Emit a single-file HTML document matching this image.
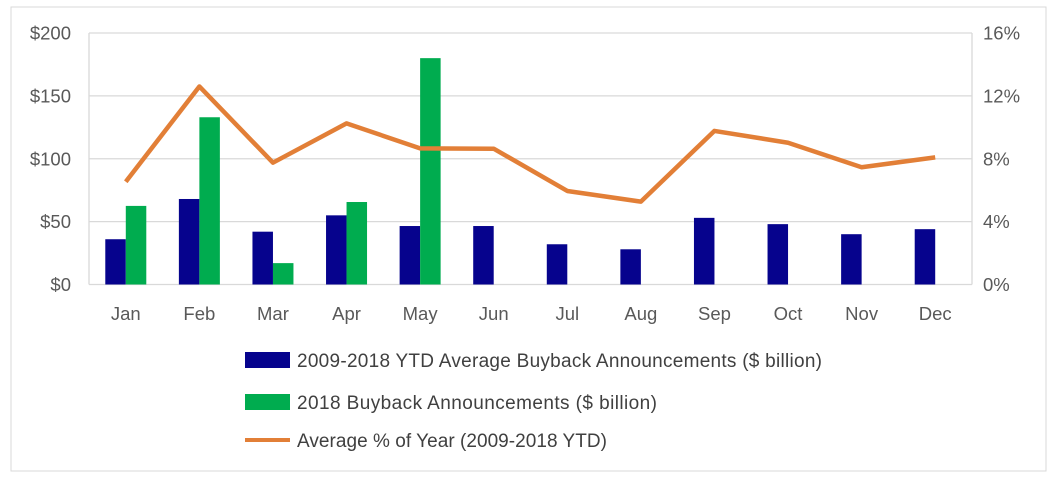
<!DOCTYPE html>
<html><head><meta charset="utf-8"><style>
body{margin:0;background:#fff;}
svg{display:block;font-family:"Liberation Sans",sans-serif;}
</style></head><body>
<svg id="chart" width="1057" height="479">
<rect x="11" y="7" width="1035" height="464" fill="#fff" stroke="#d9d9d9"/>
<g id="grid"></g><g id="bars"></g><g id="line"></g><g id="labels"></g>
<g font-size="19" fill="#404040">
<rect x="245" y="352" width="45" height="16" fill="#06038d"/>
<text x="297" y="367" textLength="525">2009-2018 YTD Average Buyback Announcements ($ billion)</text>
<rect x="245" y="394" width="45" height="16" fill="#00ac4f"/>
<text x="297" y="409" textLength="360">2018 Buyback Announcements ($ billion)</text>
<line x1="245" y1="440" x2="290" y2="440" stroke="#e27f37" stroke-width="4"/>
<text x="297" y="447" textLength="310">Average % of Year (2009-2018 YTD)</text>
</g>
</svg>
<script>
const months=["Jan","Feb","Mar","Apr","May","Jun","Jul","Aug","Sep","Oct","Nov","Dec"];
const avgBuyback=[36,68,42,55,46.5,46.5,32,28,53,48,40,44];
const buyback2018=[62.5,133,17,65.6,180,null,null,null,null,null,null,null];
const pctOfYear=[6.54,12.6,7.75,10.25,8.66,8.64,5.95,5.27,9.77,9.02,7.46,8.09];
const leftTicks=["$0","$50","$100","$150","$200"];
const rightTicks=["0%","4%","8%","12%","16%"];
const L=89,R=972,T=33,B=284.5,NS="http://www.w3.org/2000/svg";
const cw=(R-L)/months.length;
const yL=v=>B-v/200*(B-T), yR=v=>B-v/16*(B-T), xC=i=>L+cw*(i+0.5);
function mk(tag,at,parent,txt){const e=document.createElementNS(NS,tag);for(const k in at)e.setAttribute(k,at[k]);if(txt!=null)e.textContent=txt;document.getElementById(parent).appendChild(e);return e;}
leftTicks.forEach((t,i)=>{const y=yL(i*50);
let g=mk('line',{x1:L,x2:R,y1:y,y2:y,stroke:'#d9d9d9','stroke-width':1.3},'grid');


let a=mk('text',{x:71,y:y+6.5,'text-anchor':'end','font-size':18.5,fill:'#595959'},'labels',t);


let b=mk('text',{x:983,y:y+6.5,'font-size':18.5,fill:'#595959'},'labels',rightTicks[i]);

});
[L,R].forEach(x=>{let v=mk('line',{x1:x,x2:x,y1:T,y2:B,stroke:'#d9d9d9','stroke-width':1.3},'grid');

});
const bw=20.5;
months.forEach((m,i)=>{
let r=mk('rect',{x:xC(i)-bw,y:yL(avgBuyback[i]),width:bw,height:B-yL(avgBuyback[i]),fill:'#06038d'},'bars');


if(buyback2018[i]!=null){let g=mk('rect',{x:xC(i),y:yL(buyback2018[i]),width:bw,height:B-yL(buyback2018[i]),fill:'#00ac4f'},'bars');

}
let t=mk('text',{x:xC(i),y:320,'text-anchor':'middle','font-size':18.5,fill:'#595959'},'labels',m);

});
let p=mk('polyline',{points:pctOfYear.map((v,i)=>xC(i)+','+yR(v)).join(' '),fill:'none',stroke:'#e27f37','stroke-width':4.5,'stroke-linejoin':'round'},'line');


</script>
</body></html>
